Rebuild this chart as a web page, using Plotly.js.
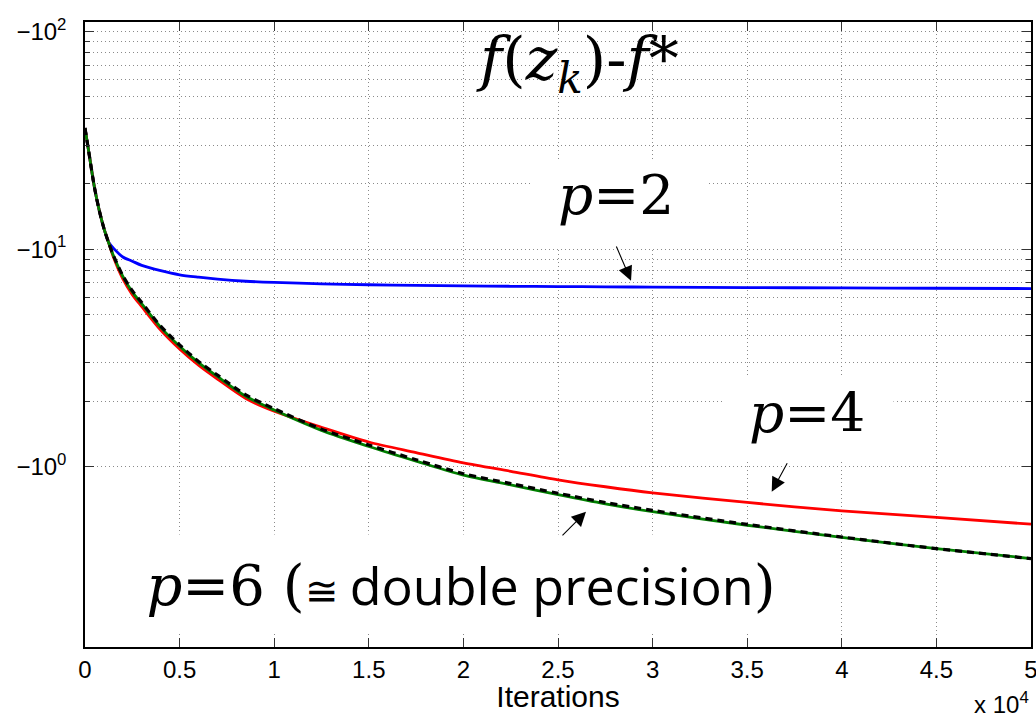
<!DOCTYPE html>
<html>
<head>
<meta charset="utf-8">
<script src="https://cdn.plot.ly/plotly-3.0.1.min.js"></script>
<style>
  html, body { margin: 0; padding: 0; background: #fff; }
  #chart { width: 1036px; height: 713px; }
</style>
</head>
<body>
<div id="chart"></div>
<script>
// Iteration counts shared by every curve
const iters = [0, 250, 500, 750, 1000, 1250, 1500, 2000, 2500, 3000, 4000, 5000, 6000, 7000, 8500,
  10000, 12500, 15000, 17500, 20000, 22500, 25000, 27500, 30000, 35000, 40000, 45000, 50000];

// |f(z_k) - f*| for each precision p
const gapP2 = [36.0, 26.2, 19.2, 15.1, 12.45, 10.75, 10.1, 9.2, 8.8, 8.42, 7.96, 7.62, 7.43, 7.28, 7.12,
  7.03, 6.93, 6.86, 6.81, 6.78, 6.75, 6.73, 6.71, 6.69, 6.66, 6.63, 6.61, 6.59];
const gapP4 = [36.0, 26.2, 19.2, 15.1, 12.45, 10.7, 9.2, 7.3, 6.18, 5.44, 4.25, 3.48, 2.93, 2.53, 2.06,
  1.80, 1.52, 1.30, 1.163, 1.043, 0.954, 0.872, 0.81, 0.759, 0.686, 0.628, 0.586, 0.545];
const gapP6 = [36.0, 26.2, 19.2, 15.1, 12.45, 10.7, 9.35, 7.5, 6.36, 5.6, 4.37, 3.58, 3.01, 2.60, 2.11,
  1.823, 1.47, 1.24, 1.062, 0.916, 0.826, 0.745, 0.676, 0.622, 0.539, 0.474, 0.421, 0.379];
const gapDouble = [36.0, 26.2, 19.2, 15.1, 12.45, 10.7, 9.37, 7.55, 6.45, 5.68, 4.43, 3.63, 3.05, 2.64, 2.14,
  1.85, 1.49, 1.26, 1.078, 0.93, 0.838, 0.756, 0.686, 0.631, 0.544, 0.476, 0.421, 0.379];

// Axis ticks
const xTickVals = [0, 5000, 10000, 15000, 20000, 25000, 30000, 35000, 40000, 45000, 50000];
const xTickText = ['0', '0.5', '1', '1.5', '2', '2.5', '3', '3.5', '4', '4.5', '5'];
const yTickVals = [1, 10, 100];
const yTickText = ['\u221210<sup>0</sup>', '\u221210<sup>1</sup>', '\u221210<sup>2</sup>'];
const yMinorVals = [2, 3, 4, 5, 6, 7, 8, 9, 20, 30, 40, 50, 60, 70, 80, 90];

const gridStyle = { showgrid: true, gridcolor: '#8a8a8a', gridwidth: 1, griddash: '1px,3px' };

function curve(name, y, color, dash) {
  return {
    type: 'scatter', mode: 'lines', name: name,
    x: iters, y: y,
    line: { color: color, width: dash ? 3.2 : 2.8, dash: dash || 'solid', shape: 'spline', smoothing: 0.8 },
    hoverinfo: 'skip'
  };
}

const traces = [
  curve('p=2', gapP2, '#0000ff'),
  curve('p=4', gapP4, '#ff0000'),
  curve('p=6', gapP6, '#008000'),
  curve('double precision', gapDouble, '#000000', '7px,5px')
];

const serif = 'DejaVu Serif';
const sans = 'Liberation Sans';

// White panel behind a label, hiding the grid there
function panel(x, y, w, h) {
  return {
    xref: 'paper', yref: 'paper', x: x, y: y, xanchor: 'center', yanchor: 'middle',
    width: w, height: h, borderpad: 0, bgcolor: '#ffffff', text: '\u00a0', showarrow: false,
    font: { family: sans, size: 10 }
  };
}

function label(x, y, text, size) {
  return {
    xref: 'paper', yref: 'paper', x: x, y: y, xanchor: 'center', yanchor: 'middle',
    text: text, showarrow: false, font: { family: serif, size: size, color: '#000' }
  };
}

function arrow(x, y, ax, ay) {
  return {
    xref: 'paper', yref: 'paper', x: x, y: y, ax: ax, ay: ay,
    text: '', showarrow: true, arrowhead: 2, arrowsize: 2.6, arrowwidth: 1.1,
    arrowcolor: '#000', standoff: 0, startstandoff: 0
  };
}

const annotations = [
  label(0.5206, 0.933, '<i>f</i>(<i>z<sub>k</sub></i>)-<i>f</i>*', 60),

  panel(0.565, 0.7096, 175, 87),
  label(0.5618, 0.7224, '<i>p</i>=2', 55),

  panel(0.7653, 0.3656, 168, 83),
  label(0.7627, 0.3752, '<i>p</i>=4', 55),

  {
    xref: 'paper', yref: 'paper', x: 0.3975, y: 0.1008, xanchor: 'center', yanchor: 'middle',
    width: 688, height: 98, borderpad: 0, bgcolor: '#ffffff',
    text: '<i>p</i>=6\u00a0(<span style="font-family:Open Sans;font-size:40px">\u2245</span>\u2009' +
          '<span style="font-family:Open Sans;font-size:52px">double precision</span>)',
    showarrow: false,
    font: { family: serif, size: 56, color: '#000' }
  },

  arrow(0.5772, 0.5861, -15.3, -35.7),
  arrow(0.7259, 0.2485, 16.3, -30),
  arrow(0.5296, 0.2165, -25, 25.3),
  {
    xref: 'paper', yref: 'paper', x: 1.0, y: -0.117, xanchor: 'right', yanchor: 'bottom',
    text: 'x 10<sup>4</sup>', showarrow: false,
    font: { family: sans, size: 24, color: '#000' }
  }
];

const layout = {
  width: 1036, height: 713,
  margin: { l: 85, r: 5, t: 22, b: 66 },
  paper_bgcolor: '#ffffff', plot_bgcolor: '#ffffff',
  showlegend: false,
  xaxis: Object.assign({
    range: [0, 50000], tickmode: 'array', tickvals: xTickVals, ticktext: xTickText,
    ticks: 'inside', ticklen: 9, tickwidth: 1, tickcolor: '#333', ticklabeloverflow: 'allow',
    showline: true, linecolor: '#000', linewidth: 1.5, mirror: 'ticks', zeroline: false,
    tickfont: { family: sans, size: 24, color: '#000' },
    title: { text: 'Iterations', font: { family: sans, size: 30, color: '#000' }, standoff: 4 }
  }, gridStyle),
  yaxis: Object.assign({
    type: 'log', range: [-0.8276, 2.0432], tickmode: 'array', tickvals: yTickVals, ticktext: yTickText,
    ticks: 'inside', ticklen: 9, tickwidth: 1, tickcolor: '#333', ticklabelstandoff: 12,
    showline: true, linecolor: '#000', linewidth: 1.5, mirror: 'ticks', zeroline: false,
    tickfont: { family: sans, size: 24, color: '#000' },
    minor: Object.assign({ tickmode: 'array', tickvals: yMinorVals, ticks: 'inside', ticklen: 5,
      tickwidth: 1, tickcolor: '#333' }, gridStyle)
  }, gridStyle),
  annotations: annotations
};

Plotly.newPlot('chart', traces, layout, { displayModeBar: false, responsive: false });
</script>
</body>
</html>
